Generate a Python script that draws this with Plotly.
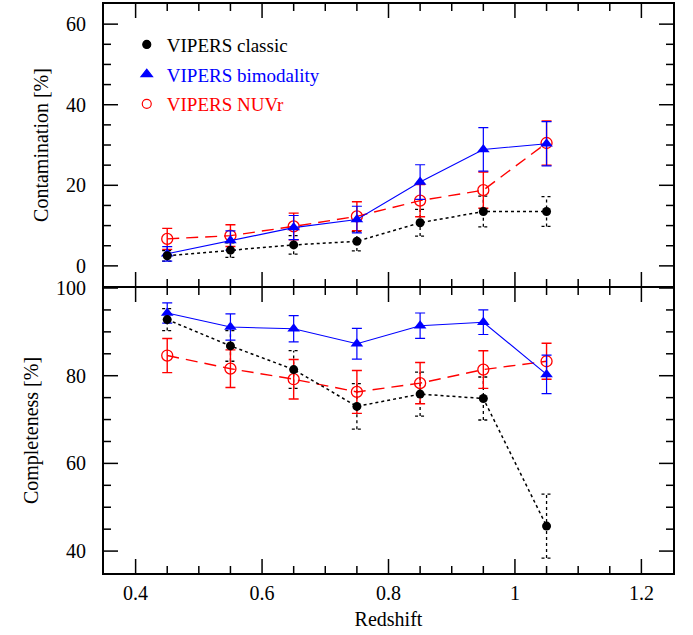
import plotly.graph_objects as go

z = [0.45, 0.55, 0.65, 0.75, 0.85, 0.95, 1.05]

# Contamination [%]
cont_classic = [2.5, 3.9, 5.2, 6.1, 10.7, 13.5, 13.5]
cont_classic_err = [1.3, 1.8, 2.3, 2.4, 3.3, 3.8, 3.7]
cont_bimod = [3.0, 6.3, 9.5, 11.5, 20.8, 28.9, 30.3]
cont_bimod_err = [1.8, 2.4, 3.0, 3.3, 4.3, 5.4, 5.5]
cont_nuvr = [6.7, 7.5, 9.8, 12.3, 16.2, 18.8, 30.5]
cont_nuvr_err = [2.6, 2.7, 3.3, 3.6, 4.0, 4.5, 5.5]

# Completeness [%]
comp_classic = [92.8, 86.8, 81.4, 73.0, 75.8, 74.8, 45.7]
comp_classic_err = [2.5, 3.5, 4.3, 5.2, 5.0, 4.9, 7.3]
comp_bimod = [94.3, 91.1, 90.7, 87.3, 91.4, 92.2, 80.3]
comp_bimod_err = [2.3, 3.0, 3.0, 3.5, 2.9, 2.8, 4.4]
comp_nuvr = [84.6, 81.6, 79.2, 76.3, 78.3, 81.4, 83.3]
comp_nuvr_err = [3.9, 4.3, 4.5, 4.9, 4.7, 4.3, 4.1]

names = ["VIPERS classic", "VIPERS bimodality", "VIPERS NUVr"]
colors = ["black", "#0000ff", "#ff0000"]

# axis ranges and tick positions
x_range = [0.35, 1.25]
ytop_range = [-5, 65]
ybot_range = [35, 100]
x_major = [0.4, 0.6, 0.8, 1.0, 1.2]
x_labels = ["0.4", "0.6", "0.8", "1", "1.2"]
x_minor = [0.45, 0.5, 0.55, 0.65, 0.7, 0.75, 0.85, 0.9, 0.95, 1.05, 1.1, 1.15]
ytop_major = [0, 20, 40, 60]
ytop_minor = [5, 10, 15, 25, 30, 35, 45, 50, 55]
ybot_major = [40, 60, 80, 100]
ybot_minor = [45, 50, 55, 65, 70, 75, 85, 90, 95]

FONT = "Liberation Serif"
CAP = 0.008  # half cap width in redshift units

fig = go.Figure()


def dotted_errors(xv, yv, ev, xa, ya):
    xs, ys = [], []
    for x, y, e in zip(xv, yv, ev):
        xs += [x, x, None, x - CAP, x + CAP, None, x - CAP, x + CAP, None]
        ys += [y - e, y + e, None, y - e, y - e, None, y + e, y + e, None]
    fig.add_trace(go.Scatter(x=xs, y=ys, mode="lines", xaxis=xa, yaxis=ya,
                             line=dict(color="black", width=1.3, dash="dot"),
                             showlegend=False, hoverinfo="skip"))


def panel(cl, cle, bi, bie, nu, nue, xa, ya):
    dotted_errors(z, cl, cle, xa, ya)
    fig.add_trace(go.Scatter(x=z, y=nu, mode="lines+markers", xaxis=xa, yaxis=ya,
                             line=dict(color=colors[2], width=1.4, dash="12px,7px"),
                             marker=dict(symbol="circle-open", size=11,
                                         line=dict(color=colors[2], width=1.3)),
                             error_y=dict(type="data", array=nue, color=colors[2],
                                          thickness=1.4, width=5),
                             showlegend=False))
    fig.add_trace(go.Scatter(x=z, y=bi, mode="lines+markers", xaxis=xa, yaxis=ya,
                             line=dict(color=colors[1], width=1.1),
                             marker=dict(symbol="triangle-up", size=11, color=colors[1]),
                             error_y=dict(type="data", array=bie, color=colors[1],
                                          thickness=1.2, width=5),
                             showlegend=False))
    fig.add_trace(go.Scatter(x=z, y=cl, mode="lines+markers", xaxis=xa, yaxis=ya,
                             line=dict(color="black", width=1.5, dash="dot"),
                             marker=dict(symbol="circle", size=9, color="black"),
                             showlegend=False))


# plot-area geometry (pixels) used to convert tick lengths to data units
PLOT_W = 693 - 104 - 20
PLOT_H = 635 - 4 - 62
split = 0.5026
half_gap = 0.00176
MAJ, MIN = 14, 7


def tick_trace(xa, ya, yr, frac_h, ymaj, ymin):
    ux = (x_range[1] - x_range[0]) / PLOT_W            # redshift per pixel
    uy = (yr[1] - yr[0]) / (PLOT_H * frac_h)            # y-units per pixel
    xs, ys = [], []
    for vals, L in ((x_major, MAJ), (x_minor, MIN)):
        for v in vals:
            xs += [v, v, None, v, v, None]
            ys += [yr[0], yr[0] + L * uy, None, yr[1], yr[1] - L * uy, None]
    for vals, L in ((ymaj, MAJ), (ymin, MIN)):
        for v in vals:
            xs += [x_range[0], x_range[0] + L * ux, None,
                   x_range[1], x_range[1] - L * ux, None]
            ys += [v, v, None, v, v, None]
    fig.add_trace(go.Scatter(x=xs, y=ys, mode="lines", xaxis=xa, yaxis=ya,
                             line=dict(color="black", width=1.5),
                             showlegend=False, hoverinfo="skip", cliponaxis=False))


tick_trace("x2", "y2", ytop_range, 1 - split - half_gap, ytop_major, ytop_minor)
tick_trace("x", "y", ybot_range, split - half_gap, ybot_major, ybot_minor)

panel(cont_classic, cont_classic_err, cont_bimod, cont_bimod_err,
      cont_nuvr, cont_nuvr_err, "x2", "y2")
panel(comp_classic, comp_classic_err, comp_bimod, comp_bimod_err,
      comp_nuvr, comp_nuvr_err, "x", "y")

# legend entries (markers only)
leg_symbols = ["circle", "triangle-up", "circle-open"]
leg_sizes = [8, 10, 9]
for i, (n, c, s, sz) in enumerate(zip(names, colors, leg_symbols, leg_sizes)):
    fig.add_trace(go.Scatter(x=[None], y=[None], mode="markers", xaxis="x2", yaxis="y2",
                             marker=dict(symbol=s, size=sz, color=c,
                                         line=dict(color=c, width=1.2)),
                             name=f'<span style="color:{c}">{n}</span>',
                             legendgroup=f"g{i}", showlegend=True))

axis_common = dict(showline=True, linecolor="black", linewidth=2, mirror=True,
                   ticks="", showgrid=False, zeroline=False,
                   tickfont=dict(family=FONT, size=20, color="black"))

fig.update_layout(
    template="none",
    width=693, height=635,
    margin=dict(l=104, r=20, t=4, b=62),
    paper_bgcolor="white", plot_bgcolor="white",
    font=dict(family=FONT, size=20, color="black"),
    showlegend=True,
    legend=dict(x=0.04, y=0.962, xanchor="left", yanchor="top",
                bgcolor="rgba(0,0,0,0)", borderwidth=0,
                font=dict(family=FONT, size=19), tracegroupgap=2,
                itemsizing="trace"),
    xaxis=dict(domain=[0, 1], range=x_range, tickvals=x_major, ticktext=x_labels,
               anchor="y", ticklabelstandoff=1,
               title=dict(text="Redshift", font=dict(family=FONT, size=20), standoff=9),
               **axis_common),
    xaxis2=dict(domain=[0, 1], range=x_range, tickvals=x_major,
                anchor="y2", matches="x", showticklabels=False, **axis_common),
    yaxis=dict(domain=[0, split - half_gap], range=ybot_range, tickvals=ybot_major,
               anchor="x", ticklabelstandoff=12,
               title=dict(text="Completeness [%]", font=dict(family=FONT, size=20), standoff=12),
               **axis_common),
    yaxis2=dict(domain=[split + half_gap, 1], range=ytop_range, tickvals=ytop_major,
                anchor="x2", ticklabelstandoff=12,
                title=dict(text="Contamination [%]", font=dict(family=FONT, size=20), standoff=12),
                **axis_common),
)

fig.write_html("out.html")
